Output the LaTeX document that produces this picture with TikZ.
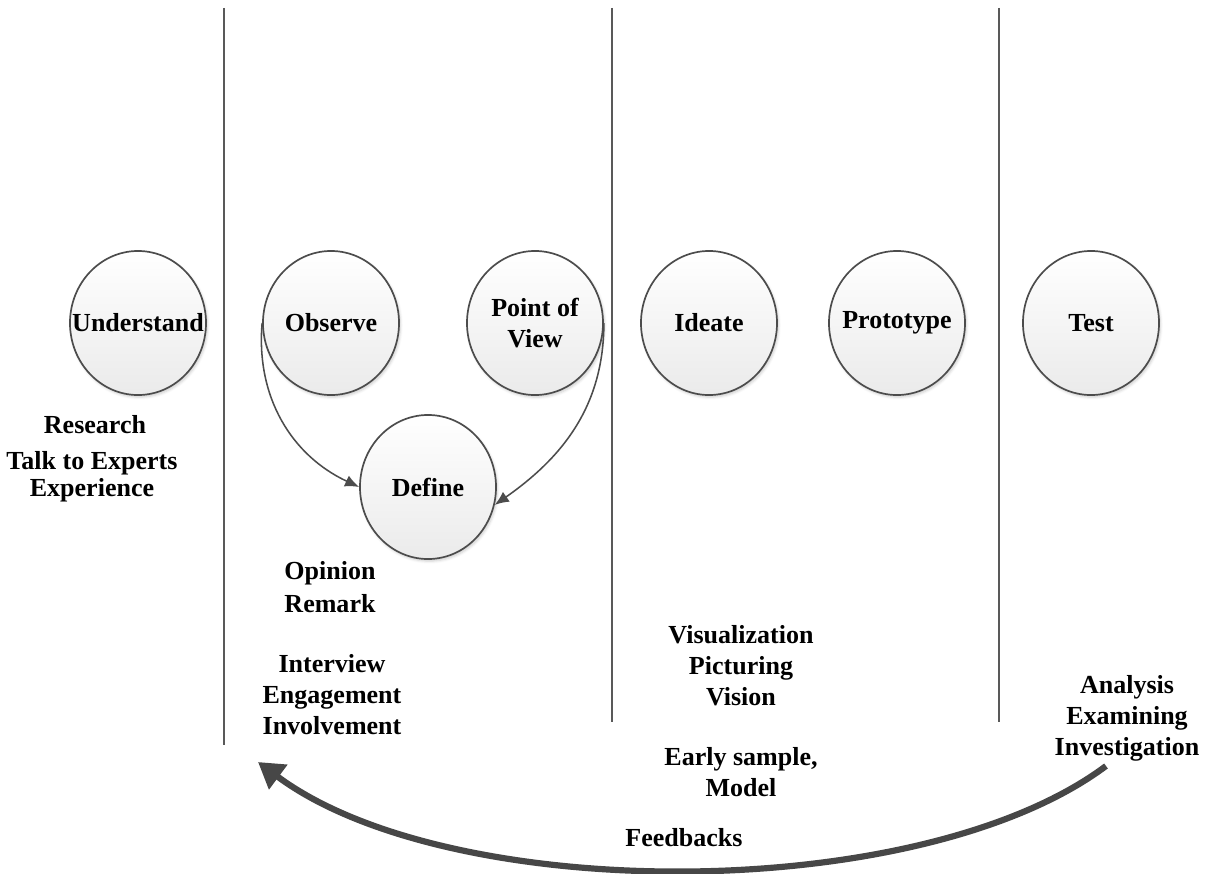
\documentclass[tikz,border=0pt]{standalone}
\usepackage{fontspec}
\setmainfont{Liberation Serif}
\usepackage{tikz}
\usetikzlibrary{positioning,arrows.meta,shapes.geometric,shadows.blur}

\begin{document}
\begin{tikzpicture}[
    x=0.025cm, y=-0.025cm,
    font=\bfseries\fontsize{18.5}{22}\selectfont,
    phase/.style={ellipse, draw=black!70, line width=1.2pt, inner sep=0pt,
        minimum width=3.4cm, minimum height=3.6cm,
        top color=white, bottom color=black!8,
        blur shadow={shadow xshift=1pt, shadow yshift=-1.5pt, shadow opacity=20},
        label={[align=center, inner sep=0pt]center:#1}},
    note/.style={align=center, inner sep=1pt},
    divider/.style={draw=black!65, line width=1.2pt},
    link/.style={-{Latex[length=10pt,width=8.5pt]}, draw=black!70, line width=1.1pt},
    loopback/.style={-{Triangle[length=18pt,width=21pt]}, draw=black!72, line width=4.4pt}
]

\useasboundingbox (0,0) rectangle (1210,874);

% stage dividers
\draw [divider] (224,8) -- (224,745);
\draw [divider] (612,8) -- (612,722);
\draw [divider] (999,8) -- (999,722);

% stages
\node (understand) [phase=Understand]        at (138,323) {};
\node (observe)    [phase=Observe]           at (331,323) {};
\node (pov)        [phase={Point of\\View}]  at (535,323) {};
\node (define)     [phase=Define]            at (428,487) {};
\node (ideate)     [phase=Ideate]            at (709,323) {};
\node (prototype)  [phase=Prototype]         at (897,323) {};
\node (test)       [phase=Test]              at (1091,323) {};

\draw [link] (observe.west) to[out=-95, in=155] (define.west);
\draw [link] (pov.east) to[out=-90, in=35] (define.-15);

% activities under each stage
\node (research)  [note] at (95,425)   {Research};
\node (experts)   [note] at (92,477)   {Talk to Experts\\[-3pt]Experience};
\node (opinion)   [note] at (330,587)  {Opinion\\[1pt]Remark};
\node (interview) [note] at (332,695)  {Interview\\Engagement\\Involvement};
\node (visual)    [note] at (741,666)  {Visualization\\Picturing\\Vision};
\node (early)     [note] at (741,772)  {Early sample,\\Model};
\node (analysis)  [note] at (1127,718) {Analysis\\Examining\\Investigation};

% loop back to the start
\coordinate (fbStart) at (1106,766);
\coordinate (fbEnd)   at (258,762);
\draw [loopback] (fbStart) .. controls (920,905) and (450,905) .. (fbEnd);
\node (feedbacks) [note] at (684,838) {Feedbacks};

\end{tikzpicture}
\end{document}
